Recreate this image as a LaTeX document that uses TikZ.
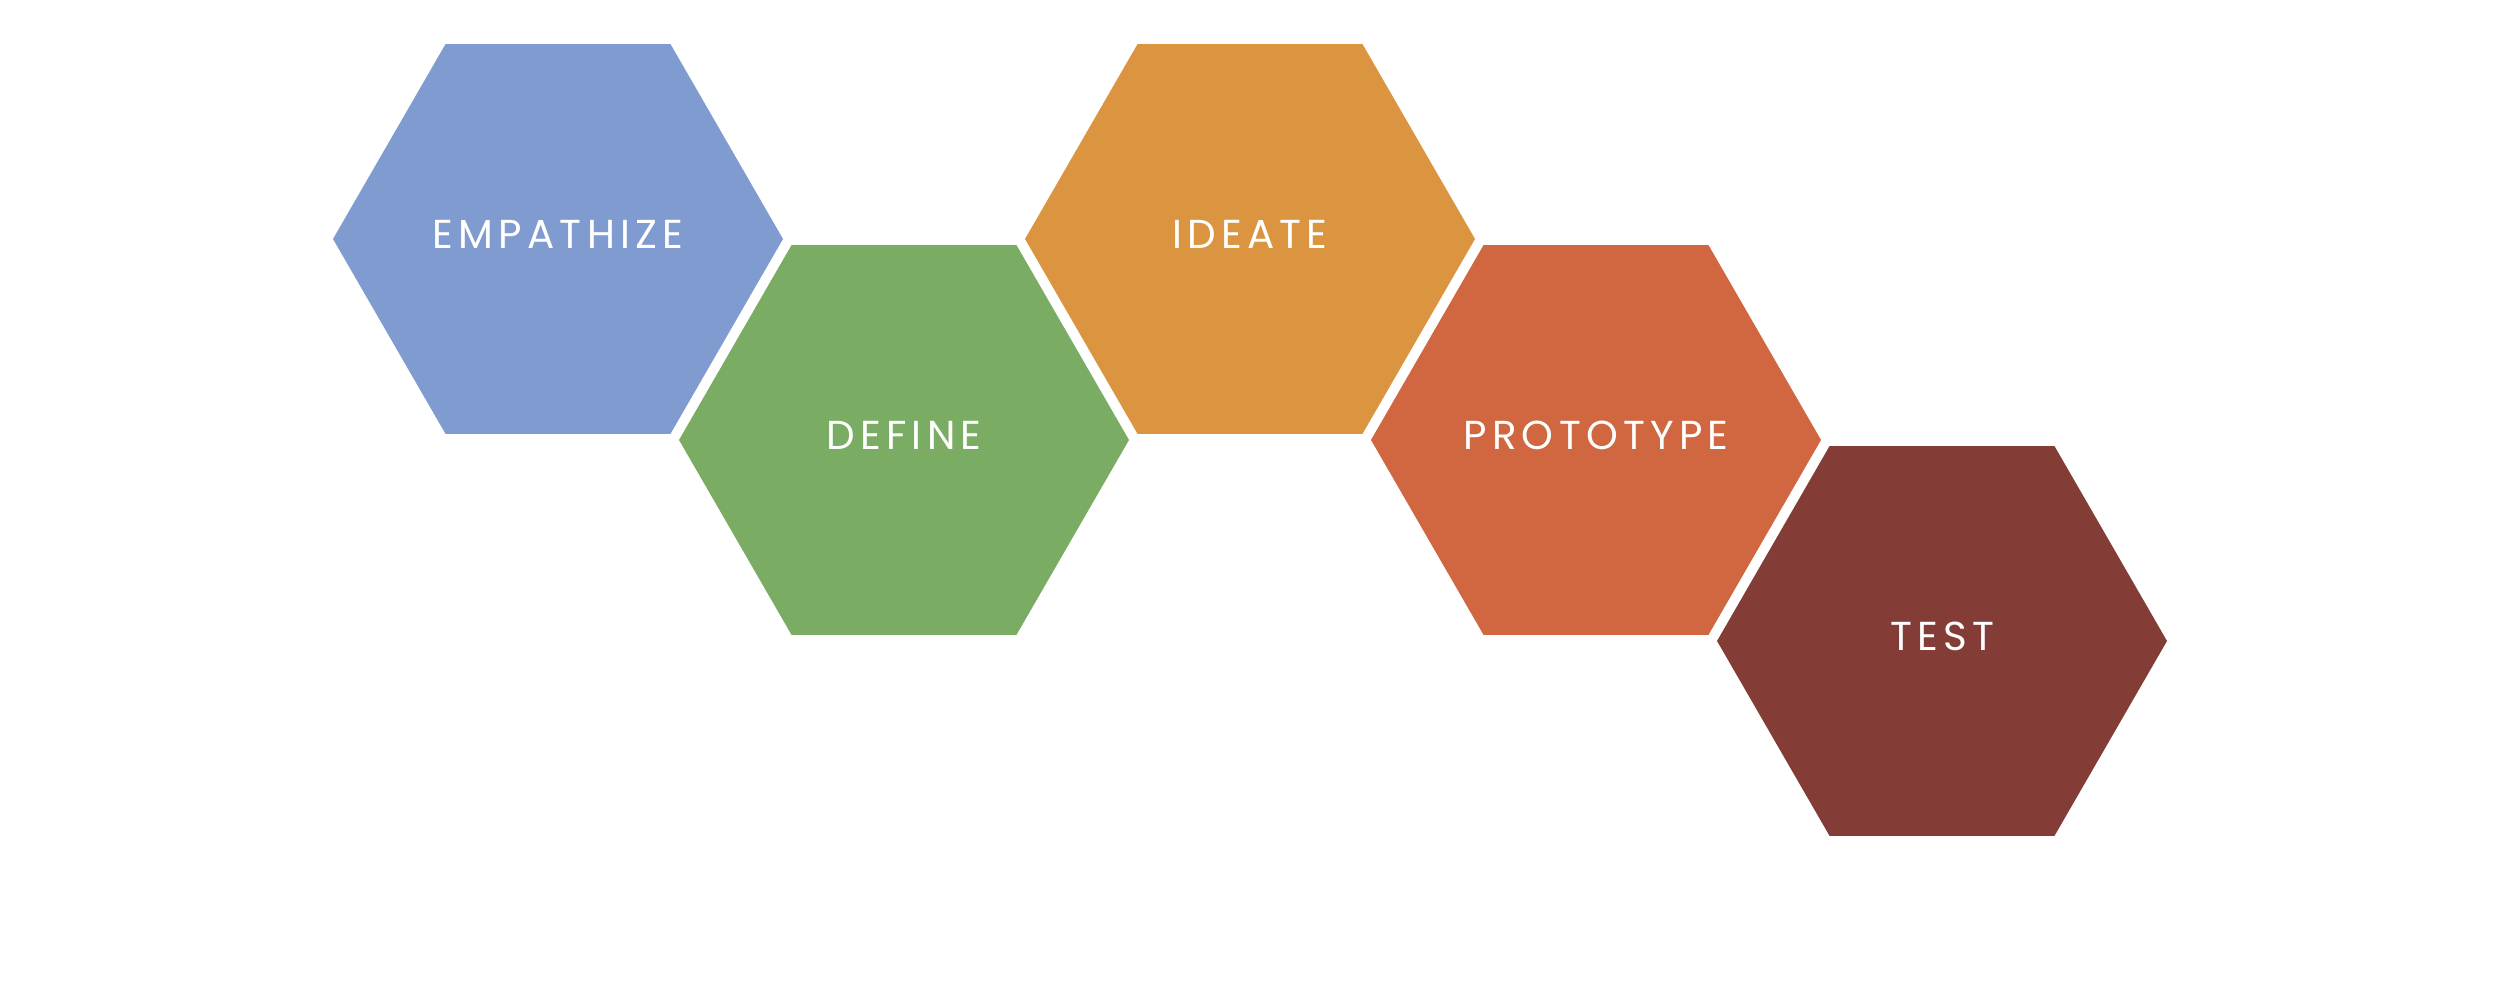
\documentclass[tikz,border=0pt]{standalone}
\usepackage{fontspec}
\newfontfamily\phasefont[LetterSpace=13]{Poppins}
\usetikzlibrary{positioning,shapes.geometric}
\definecolor{empathizeblue}{RGB}{127,155,207}
\definecolor{definegreen}{RGB}{122,172,99}
\definecolor{ideateorange}{RGB}{219,148,64}
\definecolor{prototypered}{RGB}{208,103,64}
\definecolor{testbrown}{RGB}{131,60,54}
\tikzstyle{phase}=[
	regular polygon,
	regular polygon sides=6,
	minimum size=4.5cm,
	inner sep=0pt,
	text depth=1mm,
	text=white,
	font=\phasefont\fontsize{11.5}{13}\selectfont,
	on grid,
	node distance=2.01cm and 3.46cm
]

\begin{document}
\begin{tikzpicture}
\useasboundingbox (0,0) rectangle (25,9.91);
\node [phase, fill=empathizeblue] (Empathize) at (5.58,7.52) {EMPATHIZE};
\node [phase, fill=definegreen] (Define)[below right=of Empathize] {DEFINE};
\node [phase, fill=ideateorange] (Ideate)[above right=of Define] {IDEATE};
\node [phase, fill=prototypered] (Prototype)[below right=of Ideate] {PROTOTYPE};
\node [phase, fill=testbrown] (Test)[below right=of Prototype] {TEST};
\end{tikzpicture}
\end{document}
